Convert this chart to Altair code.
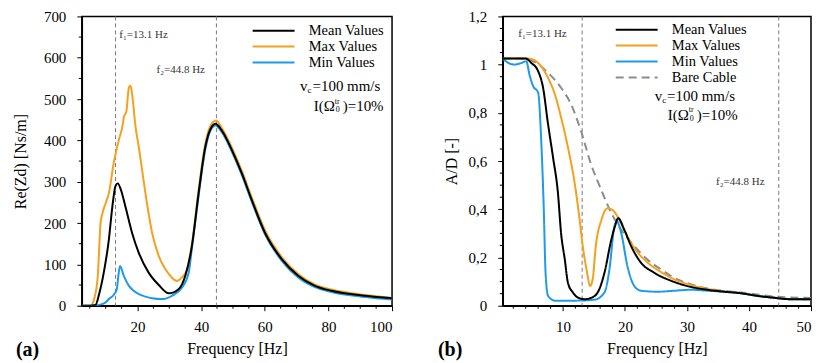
import altair as alt
import pandas as pd

FONT = "Liberation Serif"

# ---------------- panel (a): Re(Zd) [Ns/m] vs frequency ----------------
a_mean_f = [2.5, 5, 6.8, 8, 9.4, 11, 12.1, 13.1, 13.8, 14.8, 16.2, 18.3, 20.4, 23.5, 26.7, 29.8,
            32.9, 35, 37.1, 39.2, 41.3, 43.4, 44.5, 46.5, 49.7, 52.8, 55.9, 60.1, 65.4, 70.6,
            75.8, 81, 91.5, 100]
a_mean_v = [0, 0, 2, 30, 80, 160, 240, 290, 296, 280, 240, 176, 128, 80, 50, 30,
            40, 72, 144, 272, 384, 434, 440, 424, 376, 320, 256, 176, 112, 72,
            48, 36, 24, 18]

a_max_f = [2.5, 5.2, 6.5, 7.5, 8.4, 9, 10, 11, 12.5, 14.1, 15.4, 15.7, 16.5, 17.3, 17.8, 18.3,
           19.4, 20.4, 22.5, 24.6, 26.7, 28.8, 30.8, 32.4, 33.9, 35.6, 37.1, 39.2, 41.3, 43.4,
           44.7, 46.5, 49.7, 52.8, 55.9, 60.1, 65.4, 70.6, 75.8, 81, 91.5, 100]
a_max_v = [0, 0, 20, 70, 200, 224, 248, 272, 344, 400, 440, 456, 470, 528, 532, 512,
           432, 384, 272, 176, 120, 88, 68, 60, 68, 88, 150, 280, 392, 442,
           448, 430, 382, 326, 262, 182, 117, 76, 51, 39, 26, 19]

a_min_f = [2.5, 6, 8, 10, 11, 12.5, 13.5, 14.1, 14.5, 15.7, 17.3, 18.8, 20.4, 22.5, 24.6, 27.7,
           30.8, 34, 36.1, 37.1, 39.2, 41.3, 43.4, 44.5, 46.5, 49.7, 52.8, 55.9, 60.1, 65.4,
           70.6, 75.8, 81, 91.5, 100]
a_min_v = [0, 0, 2, 8, 16, 26, 40, 80, 96, 72, 48, 36, 28, 22, 18, 16,
           24, 44, 80, 140, 266, 378, 430, 436, 420, 372, 316, 252, 172, 108,
           68, 45, 33, 21, 15]

# ---------------- panel (b): A/D [-] vs frequency ----------------
b_bare_f = [0.3, 3, 5.5, 7.6, 9.7, 11.3, 12.9, 14.5, 16.2, 17.8, 19.4, 21.5, 23.6, 25.8, 27.9,
            30.6, 33.3, 38.6, 41.3, 44, 46.7, 50]
b_bare_v = [1.025, 1.025, 1.01, 0.966, 0.904, 0.836, 0.726, 0.589, 0.479, 0.384, 0.315, 0.247,
            0.192, 0.151, 0.116, 0.089, 0.071, 0.055, 0.047, 0.038, 0.034, 0.032]

b_mean_f = [0.3, 4, 4.9, 6, 6.8, 7.6, 8.4, 9.2, 9.7, 10.3, 10.8, 11.6, 12.4, 13.5, 14.5, 15.6,
            16.7, 17.8, 18.4, 18.9, 19.9, 21, 22.6, 24.7, 27.9, 30.6, 33.3, 36, 38.6, 41.3,
            44, 46.7, 50]
b_mean_v = [1.025, 1.025, 1.007, 0.973, 0.904, 0.753, 0.616, 0.466, 0.301, 0.192, 0.096, 0.055,
            0.034, 0.027, 0.032, 0.055, 0.137, 0.274, 0.33, 0.363, 0.315, 0.247, 0.178, 0.137,
            0.099, 0.078, 0.066, 0.058, 0.052, 0.041, 0.033, 0.027, 0.027]

b_max_f = [0.3, 4.5, 6, 7.6, 8.7, 9.7, 10.8, 11.9, 12.7, 13.2, 13.8, 14.4, 14.8, 15.3, 16.2,
           17.2, 18, 18.8, 19.9, 21.5, 23.6, 25.8, 27.9, 30.6, 33.3, 36, 38.6, 41.3, 44, 46.7, 50]
b_max_v = [1.025, 1.025, 1.007, 0.945, 0.877, 0.781, 0.658, 0.507, 0.356, 0.247, 0.151, 0.082,
           0.110, 0.247, 0.356, 0.404, 0.397, 0.370, 0.312, 0.24, 0.18, 0.14, 0.11, 0.086,
           0.07, 0.06, 0.053, 0.042, 0.034, 0.028, 0.027]

b_min_f = [0.3, 1.2, 2.2, 3.3, 4.1, 4.6, 5.2, 6, 6.5, 6.9, 7.2, 7.6, 8.7, 11.9, 15.1, 16.7,
           17.5, 18.3, 18.7, 19.4, 20.4, 21.5, 22.6, 25.3, 27.9, 30.6, 33.3, 36, 38.6, 41.3,
           44, 46.7, 50]
b_min_v = [1.025, 1.007, 1.0, 1.007, 1.014, 0.959, 0.911, 0.884, 0.685, 0.411, 0.137, 0.041,
           0.021, 0.021, 0.025, 0.055, 0.151, 0.329, 0.350, 0.301, 0.164, 0.082, 0.062, 0.058,
           0.062, 0.066, 0.062, 0.058, 0.052, 0.041, 0.033, 0.027, 0.027]

f_lines = [13.1, 44.8]
f_labels = ["f\u2081=13.1 Hz", "f\u2082=44.8 Hz"]

SERIES_A = ["Mean Values", "Max Values", "Min Values"]
SERIES_B = ["Mean Values", "Max Values", "Min Values", "Bare Cable"]
COLORS_A = ["#000000", "#F5A01E", "#1E9AE8"]
COLORS_B = ["#000000", "#F5A01E", "#1E9AE8", "#8C8C8C"]
DASH_B = [[1, 0], [1, 0], [1, 0], [8, 5]]

# tick positions (major with labels, minor without)
a_xmajor = [20, 40, 60, 80, 100]
a_xminor = [5, 10, 15, 25, 30, 35, 45, 50, 55, 65, 70, 75, 85, 90, 95]
a_ymajor = [0, 100, 200, 300, 400, 500, 600, 700]
a_yminor = [50, 150, 250, 350, 450, 550, 650]
b_xmajor = [10, 20, 30, 40, 50]
b_xminor = [2, 4, 6, 8, 12, 14, 16, 18, 22, 24, 26, 28, 32, 34, 36, 38, 42, 44, 46, 48]
b_ymajor = [0, 0.2, 0.4, 0.6, 0.8, 1.0, 1.2]
b_yminor = [0.05, 0.1, 0.15, 0.25, 0.3, 0.35, 0.45, 0.5, 0.55, 0.65, 0.7, 0.75, 0.85, 0.9,
            0.95, 1.05, 1.1, 1.15]

W_A, W_B, H = 311, 309, 290


def df(f, v, name):
    return pd.DataFrame({"f": f, "v": v, "series": name})


def legend(x, y):
    return alt.Legend(orient="none", legendX=x, legendY=y, title=None,
                      symbolType="M-6,0H6", symbolSize=49, symbolStrokeWidth=2,
                      symbolOffset=17, labelOffset=28, labelFont=FONT, labelFontSize=14.5,
                      labelColor="black", rowPadding=1, padding=0)


def panel(lines, xs, ys, xaxis, yaxis, width, series, colors, dashes, leg,
          xminor, yminor, fx, fy, vx_eq, vy, ix, iy, letter, letter_dx):
    cscale = alt.Scale(domain=series, range=colors)
    layers = []
    # dashed natural frequency lines
    layers.append(alt.Chart(pd.DataFrame({"f": f_lines})).mark_rule(
        color="#7a7a7a", strokeDash=[4, 3], strokeWidth=1).encode(
        x=alt.X("f:Q", scale=xs, axis=xaxis)))
    for (f, v, name) in lines:
        enc = dict(
            x=alt.X("f:Q", scale=xs, axis=xaxis),
            y=alt.Y("v:Q", scale=ys, axis=yaxis),
            color=alt.Color("series:N", scale=cscale, legend=leg),
        )
        if dashes is not None:
            enc["strokeDash"] = alt.StrokeDash("series:N", scale=alt.Scale(domain=series, range=dashes), legend=leg)
        layers.append(alt.Chart(df(f, v, name)).mark_line(
            strokeWidth=2, interpolate="monotone", clip=True).encode(**enc))
    # minor ticks
    layers.append(alt.Chart(pd.DataFrame({"t": xminor})).mark_rule(
        color="black", strokeWidth=1).encode(
        x=alt.X("t:Q", scale=xs), y=alt.value(H), y2=alt.value(H + 3)))
    layers.append(alt.Chart(pd.DataFrame({"t": yminor})).mark_rule(
        color="black", strokeWidth=1).encode(
        y=alt.Y("t:Q", scale=ys), x=alt.value(-3), x2=alt.value(0)))
    # f labels
    layers.append(alt.Chart(pd.DataFrame({"x": fx, "y": fy, "t": f_labels})).mark_text(
        font=FONT, fontSize=11, align="left", baseline="middle", color="#333").encode(
        x=alt.X("x:Q", scale=xs), y=alt.Y("y:Q", scale=ys), text="t:N"))
    # v_c = 100 mm/s
    vdf = pd.DataFrame({"x": [vx_eq], "y": [vy]})
    base = alt.Chart(vdf).encode(x=alt.X("x:Q", scale=xs), y=alt.Y("y:Q", scale=ys))
    layers.append(base.mark_text(font=FONT, fontSize=15, align="left", baseline="middle",
                                 color="black", text="=100 mm/s"))
    layers.append(base.mark_text(font=FONT, fontSize=15, align="right", baseline="middle",
                                 color="black", text="v", dx=-5))
    layers.append(base.mark_text(font=FONT, fontSize=9, align="left", baseline="middle",
                                 color="black", text="c", dx=-5, dy=4))
    # I(Omega_0^tr) = 10%
    idf = pd.DataFrame({"x": [ix], "y": [iy]})
    base2 = alt.Chart(idf).encode(x=alt.X("x:Q", scale=xs), y=alt.Y("y:Q", scale=ys))
    layers.append(base2.mark_text(font=FONT, fontSize=15, align="right", baseline="middle",
                                  color="black", text="I(\u03a9"))
    layers.append(base2.mark_text(font=FONT, fontSize=8, align="left", baseline="middle",
                                  color="black", text="tr", dy=-5))
    layers.append(base2.mark_text(font=FONT, fontSize=8, align="left", baseline="middle",
                                  color="black", text="0", dy=4, dx=1))
    layers.append(base2.mark_text(font=FONT, fontSize=15, align="left", baseline="middle",
                                  color="black", text=")=10%", dx=8))
    # panel letter
    layers.append(alt.Chart(pd.DataFrame({"t": [letter]})).mark_text(
        font=FONT, fontSize=20, fontWeight="bold", align="left", baseline="middle",
        color="black").encode(text="t:N", x=alt.value(letter_dx), y=alt.value(H + 44)))
    return alt.layer(*layers).properties(width=width, height=H)


def ax(values, title, title_pad, label_pad, label_expr=None):
    kw = dict(values=values, title=title, tickSize=5, labelOverlap=False,
              titlePadding=title_pad, labelPadding=label_pad, grid=False)
    if label_expr:
        kw["labelExpr"] = label_expr
    return alt.Axis(**kw)


xs_a = alt.Scale(domain=[2.5, 100], nice=False, zero=False)
ys_a = alt.Scale(domain=[0, 700], nice=False)
xs_b = alt.Scale(domain=[0.3, 50], nice=False, zero=False)
ys_b = alt.Scale(domain=[0, 1.2], nice=False)

xaxis_a = ax(a_xmajor, "Frequency [Hz]", 6, 9)
yaxis_a = ax(a_ymajor, "Re(Zd) [Ns/m]", 15, 11)
xaxis_b = ax(b_xmajor, "Frequency [Hz]", 6, 9)
yaxis_b = ax(b_ymajor, "A/D [-]", 9, 11,
             "replace(format(datum.value, '~g'), '.', ',')")

pa = panel([(a_max_f, a_max_v, "Max Values"), (a_min_f, a_min_v, "Min Values"),
            (a_mean_f, a_mean_v, "Mean Values")],
           xs_a, ys_a, xaxis_a, yaxis_a, W_A, SERIES_A, COLORS_A, None, legend(168, 7),
           a_xminor, a_yminor,
           [14.3, 26], [654, 570], 75.0, 532, 82.0, 482, "(a)", -66)

pb = panel([(b_bare_f, b_bare_v, "Bare Cable"), (b_max_f, b_max_v, "Max Values"),
            (b_min_f, b_min_v, "Min Values"), (b_mean_f, b_mean_v, "Mean Values")],
           xs_b, ys_b, xaxis_b, yaxis_b, W_B, SERIES_B, COLORS_B, DASH_B, legend(110, 6),
           b_xminor, b_yminor,
           [2.8, 34.7], [1.126, 0.514], 26.8, 0.871, 30.3, 0.793, "(b)", -65)

chart = alt.hconcat(pa, pb, spacing=43).resolve_scale(
    color="independent", strokeDash="independent").resolve_legend(
    color="independent", strokeDash="independent").properties(
    padding={"left": 3, "top": 0, "right": 0, "bottom": 0}
).configure_view(stroke="black", strokeWidth=1.5).configure_axis(
    labelFont=FONT, titleFont=FONT, labelFontSize=15, titleFontSize=16,
    titleFontWeight="normal", labelColor="black", titleColor="black",
    tickColor="black", domainColor="black", domainWidth=1.5, tickWidth=1
)

chart.save("out.html", embed_options={"renderer": "svg", "actions": False})
